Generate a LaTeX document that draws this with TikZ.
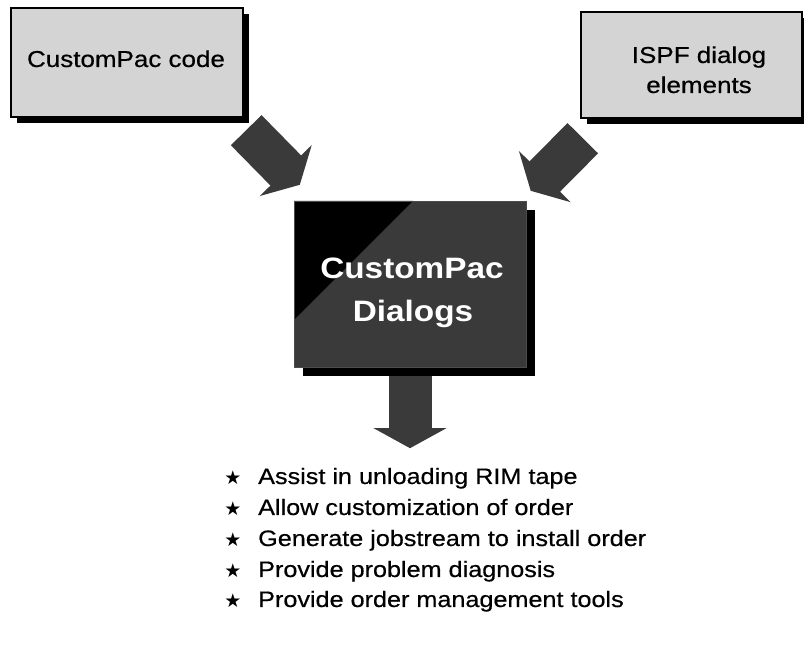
\documentclass[tikz,border=0pt]{standalone}
\usepackage{fontspec}
\setmainfont{Liberation Sans}[FakeStretch=1.13, UprightFeatures={FakeBold=0.5}]
\newfontfamily\starfont{DejaVu Sans}
\usepackage{xcolor}
\definecolor{dotlight}{RGB}{212,212,212}
\definecolor{dotdark}{RGB}{58,58,58}
\usetikzlibrary{arrows.meta, positioning, shadows, calc}

\tikzset{
  srcbox/.style={draw=black, line width=1.4pt, fill=dotlight, inner sep=0pt,
    drop shadow={shadow xshift=6pt, shadow yshift=-6pt, opacity=1, fill=black}},
  dlgbox/.style={draw=black!70, thin, fill=dotdark, inner sep=0pt,
    minimum width=232pt, minimum height=166pt,
    drop shadow={shadow xshift=9pt, shadow yshift=-9pt, opacity=1, fill=black},
    path picture={\fill[black] (path picture bounding box.north west) -- ++(119pt,0) -- ++(-119pt,-119pt) -- cycle;}},
  blockarrow/.style={line width=43pt, draw=dotdark, -{Triangle[length=20pt, width=72pt]}},
  boxtext/.style={anchor=base, inner sep=0pt, font=\fontsize{23}{27}\selectfont},
  dlgtext/.style={anchor=base, inner sep=0pt, white, font=\fontsize{29.5}{34}\selectfont\bfseries},
  itemtext/.style={anchor=base west, inner sep=0pt, font=\fontsize{22.3}{26}\selectfont},
  itemstar/.style={inner sep=0pt, font=\starfont\fontsize{19}{19}\selectfont},
}

\begin{document}
\begin{tikzpicture}[x=1pt, y=1pt]
  \useasboundingbox (0,0) rectangle (804,658);

  % --- Top: the two sources ---
  \node[srcbox, minimum width=232pt, minimum height=109pt] (code) at (127,595.5) {};
  \node[boxtext] (codetxt) at (126,591) {CustomPac code};

  \node[srcbox, minimum width=221pt, minimum height=106pt] (ispf) at (691.5,593) {};
  \node[boxtext] (ispftxt1) at (699,595) {ISPF dialog};
  \node[boxtext] (ispftxt2) at (699,565) {elements};

  % --- Middle: the dialogs ---
  \node[dlgbox] (dialogs) at (410,374) {};
  \node[dlgtext] (dlgtxt1) at (412,379) {CustomPac};
  \node[dlgtext] (dlgtxt2) at (413,336) {Dialogs};

  % Arrow ends
  \coordinate (codeout) at ($(code.south east)+(2.5,-12.5)$);
  \coordinate (ispfout) at ($(ispf.south west)+(2.5,-19.5)$);
  \coordinate (dlgnw) at ($(dialogs.north west)+(6,16)$);
  \coordinate (dlgne) at ($(dialogs.north east)+(4.5,10)$);
  \coordinate (dlgout) at ($(dialogs.south)+(0,-9)$);
  \coordinate (listtop) at ($(dialogs.south)+(0,-81)$);

  % Block arrows
  \draw[blockarrow] (codeout) -- (dlgnw);
  \draw[blockarrow] (ispfout) -- (dlgne);
  \draw[blockarrow] (dlgout) -- (listtop);

  % --- Bottom: what the dialogs do ---
  \node[itemstar] (star1) at (233,180.5) {★};
  \node[itemtext] (item1) at (258,174) {Assist in unloading RIM tape};

  \node[itemstar] (star2) at (233,149.5) {★};
  \node[itemtext] (item2) at (258,143) {Allow customization of order};

  \node[itemstar] (star3) at (233,118.5) {★};
  \node[itemtext] (item3) at (258,112) {Generate jobstream to install order};

  \node[itemstar] (star4) at (233,87.5) {★};
  \node[itemtext] (item4) at (258,81) {Provide problem diagnosis};

  \node[itemstar] (star5) at (233,57.5) {★};
  \node[itemtext] (item5) at (258,51) {Provide order management tools};
\end{tikzpicture}
\end{document}
